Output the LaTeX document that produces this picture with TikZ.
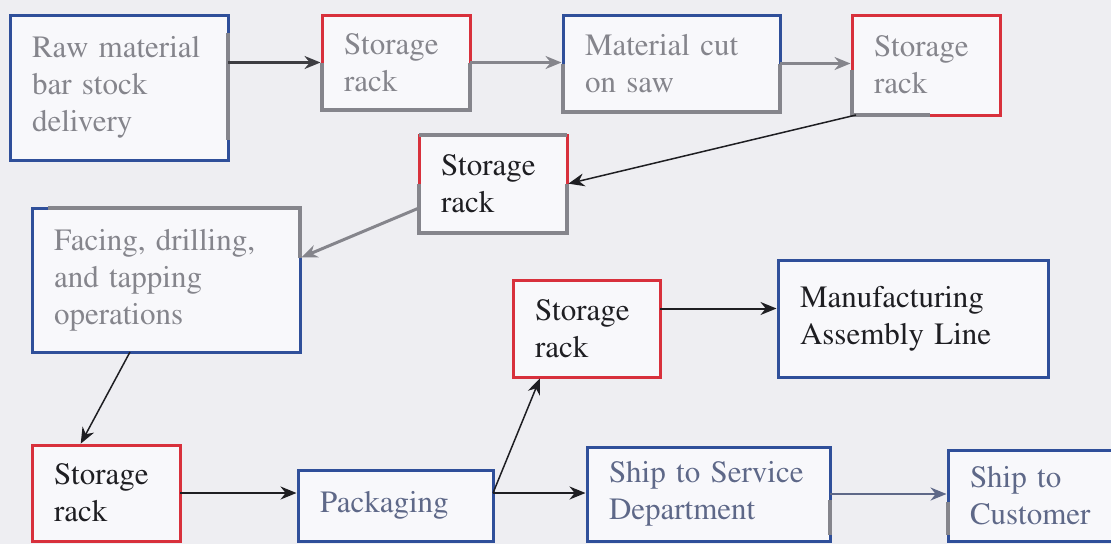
\documentclass[tikz,border=0pt]{standalone}
\usepackage[T1]{fontenc}
\usepackage{mathptmx}
\usetikzlibrary{arrows.meta,positioning}
\definecolor{boxblue}{HTML}{2F4F9A}
\definecolor{rackred}{HTML}{D8303C}
\definecolor{scangray}{HTML}{85858C}
\definecolor{inkblack}{HTML}{1E1E22}
\definecolor{inkslate}{HTML}{5E6888}
\definecolor{paper}{HTML}{EEEEF2}
\definecolor{boxfill}{HTML}{F8F8FB}

\begin{document}
\begin{tikzpicture}[
  x=1pt,y=-1pt,
  >=Stealth,
  block/.style={draw,fill=boxfill,line width=3pt,anchor=north west,align=left,
    inner xsep=22pt,inner ysep=0pt,outer sep=0pt,font=\fontsize{31}{37}\selectfont},
  process/.style={block,draw=boxblue},
  rack/.style={block,draw=rackred},
  patch/.style={draw=scangray,line width=3.4pt},
  flow/.style={-{Stealth[length=16pt,width=13pt]},line width=2pt,inkblack,shorten >=1.5pt},
  flowgray/.style={flow,scangray,line width=2.5pt}
]
  \clip (0,0) rectangle (1111,544);
  \fill[paper] (0,0) rectangle (1111,544);

  % top row
  \node[process,text=scangray,text width=174pt,minimum width=218pt,minimum height=145pt] (raw) at (10,15) {Raw material\\bar stock\\delivery};
  \node[rack,text=scangray,text width=104pt,minimum width=148pt,minimum height=95pt] (rack1) at (322,15) {Storage\\rack};
  \node[process,text=scangray,text width=173pt,minimum width=217pt,minimum height=97pt] (saw) at (563,15) {Material cut\\on saw};
  \node[rack,text=scangray,text width=104pt,minimum width=148pt,minimum height=100pt] (rack2) at (852,15) {Storage\\rack};

  % middle
  \node[rack,text=inkblack,text width=104pt,minimum width=148pt,minimum height=98pt] (rack3) at (419,135) {Storage\\rack};
  \node[process,text=scangray,text width=224pt,minimum width=268pt,minimum height=144pt] (facing) at (32,208) {Facing, drilling,\\and tapping\\operations};
  \node[rack,text=inkblack,text width=103pt,minimum width=147pt,minimum height=97pt] (rack4) at (513,280) {Storage\\rack};
  \node[process,text=inkblack,text width=226pt,minimum width=270pt,minimum height=117pt] (assembly) at (778,260) {Manufacturing\\Assembly Line};

  % bottom row
  \node[rack,text=inkblack,text width=104pt,minimum width=148pt,minimum height=96pt] (rack5) at (32,445) {Storage\\rack};
  \node[process,text=inkslate,text width=151pt,minimum width=195pt,minimum height=71pt] (pack) at (298,470) {Packaging};
  \node[process,text=inkslate,text width=199pt,minimum width=243pt,minimum height=94pt] (service) at (587,447) {Ship to Service\\Department};
  \node[process,text=inkslate,text width=156pt,minimum width=200pt,minimum height=91pt] (customer) at (948,450) {Ship to\\Customer};

  % gray retouched edges
  \draw[patch] ([yshift=-18pt]raw.north east) -- ([yshift=20pt]raw.south east);
  \draw[patch] (rack1.east) -- (rack1.south east) -- (rack1.south west) -- (rack1.west);
  \draw[patch] (saw.east) -- (saw.south east) -- (saw.south west) -- (saw.west);
  \draw[patch] ([yshift=-5pt]rack2.west) -- (rack2.south west) -- ([xshift=-70pt]rack2.south east);
  \draw[patch] (rack3.east) -- (rack3.south east) -- (rack3.south west) -- (rack3.west);
  \draw[patch] (rack3.north west) -- (rack3.north east);
  \draw[patch] ([xshift=16pt]facing.north west) -- (facing.north east) -- ([yshift=22pt]facing.east);
  \draw[patch] ([yshift=-6pt]service.east) -- ([yshift=6pt]service.south east);
  \draw[patch] ([yshift=-6pt]customer.west) -- ([yshift=6pt]customer.south west);

  % connectors
  \draw[flowgray,inkblack!70!scangray] (raw.east |- rack1.west) -- (rack1.west);
  \draw[flowgray] (rack1.east) -- (rack1.east -| saw.west);
  \draw[flowgray] (saw.east) -- (saw.east -| rack2.west);
  \draw[flow,line width=1.5pt] ([xshift=4pt]rack2.south west) -- (rack3.east);
  \draw[flowgray,line width=3pt] ([yshift=-24pt]rack3.west) -- ([yshift=22pt]facing.east);
  \draw[flow,line width=1.5pt] ([xshift=-36pt]facing.south) -- ([xshift=-26pt]rack5.north);
  \coordinate (fork) at (pack.east |- rack5.east);
  \draw[flow] (rack5.east) -- (rack5.east -| pack.west);
  \draw[flow,line width=1.5pt] (fork) -- ([xshift=-46pt]rack4.south);
  \draw[flow] (fork) -- (fork -| service.west);
  \draw[flow] ([yshift=20pt]rack4.east) -- ([yshift=20pt]rack4.east -| assembly.west);
  \draw[flow,inkslate] (service.east) -- (service.east -| customer.west);
\end{tikzpicture}
\end{document}
